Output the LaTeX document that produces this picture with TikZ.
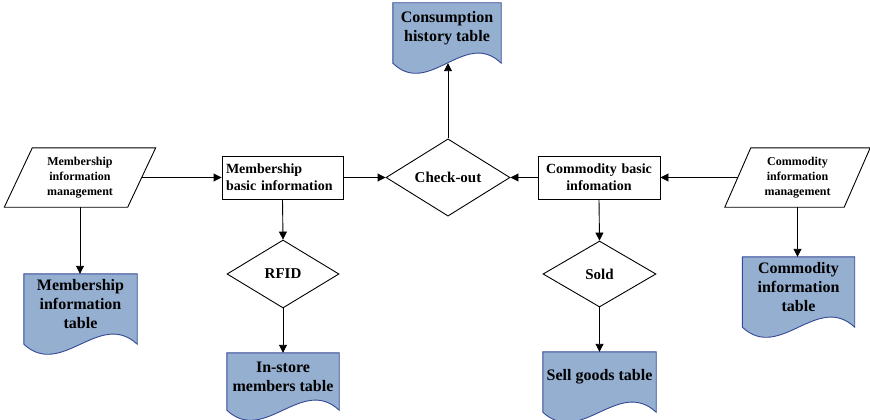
\documentclass[tikz,border=0pt]{standalone}
\usepackage{fontspec}
\setmainfont{Liberation Serif}
\usetikzlibrary{shapes.geometric,arrows.meta,calc,backgrounds}
\definecolor{tablefill}{RGB}{149,175,208}
\definecolor{tableedge}{RGB}{52,72,150}

\tikzset{
  iobox/.style={rectangle, minimum height=59pt, inner sep=0pt, align=center,
    font=\bfseries\fontsize{12}{15}\selectfont},
  ioshape/.style={draw, line width=0.9pt, fill=white},
  procbox/.style={draw, line width=0.9pt, rectangle, minimum height=43pt,
    inner xsep=4pt, inner ysep=0pt, font=\bfseries\fontsize{14}{17}\selectfont},
  decision/.style={draw, line width=0.9pt, diamond, inner sep=0pt,
    font=\bfseries\fontsize{15}{18}\selectfont},
  datatable/.style={rectangle, inner sep=0pt, align=center,
    font=\bfseries\fontsize{16}{19}\selectfont},
  tableshape/.style={fill=tablefill, draw=tableedge, line width=0.9pt},
  flow/.style={-{Triangle[length=8pt,width=8pt]}, line width=0.9pt},
}

% parallelogram around an input/output node; #2 is half the horizontal slant
\newcommand\slantframe[2]{%
  \path[ioshape] ($(#1.north west)+(#2,0)$) -- ($(#1.north east)+(#2,0)$)
    -- ($(#1.south east)+(-#2,0)$) -- ($(#1.south west)+(-#2,0)$) -- cycle;}

% document outline with a wavy lower edge around a table node
\newcommand\wavetable[1]{%
  \path[tableshape] ($(#1.south west)+(0,10)$) -- (#1.north west) -- (#1.north east)
    -- ($(#1.south east)+(0,10)$)
    .. controls ($(#1.south west)!0.667!(#1.south east)+(0,-25)$)
    and ($(#1.south west)!0.333!(#1.south east)+(0,45)$)
    .. ($(#1.south west)+(0,10)$) -- cycle;}

\begin{document}
\begin{tikzpicture}[x=1pt, y=-1pt]
  \useasboundingbox (0,0) rectangle (870,420);

  % main row
  \node[iobox, minimum width=123pt] (mpar) at (80,177.5) {Membership\\information\\management};
  \node[procbox, text width=113pt, align=left] (mbox) at (282.5,177.5)
    {Membership\\basic information};
  \node[decision, minimum width=124pt, minimum height=67pt] (check) at (448,177.5) {Check-out};
  \node[procbox, text width=114pt, align=center] (cbox) at (599,177.5)
    {Commodity basic\\infomation};
  \node[iobox, minimum width=119pt] (cpar) at (797.5,177.5) {Commodity\\information\\management};

  % decisions
  \node[decision, minimum width=112pt, minimum height=68pt] (rfid) at (283,274) {RFID};
  \node[decision, minimum width=113pt, minimum height=66pt] (sold) at (599.5,274) {Sold};

  % tables
  \node[datatable, minimum width=113pt, minimum height=60pt] (memtab) at (80.5,304)
    {Membership\\information\\table};
  \node[datatable, minimum width=112pt, minimum height=47pt] (instore) at (283,376.5)
    {In-store\\members table};
  \node[datatable, minimum width=113pt, minimum height=50pt] (sell) at (599.5,377)
    {Sell goods table};
  \node[datatable, minimum width=112pt, minimum height=60pt] (comtab) at (798.5,287)
    {Commodity\\information\\table};
  \node[datatable, minimum width=108pt, minimum height=50pt] (cons) at (447,28)
    {Consumption\\history table};
  \coordinate (consend) at ($(cons.south)+(0,10)$);

  \begin{scope}[on background layer]
    \slantframe{mpar}{14}
    \slantframe{cpar}{13}
    \wavetable{memtab}
    \wavetable{instore}
    \wavetable{sell}
    \wavetable{comtab}
    \wavetable{cons}
  \end{scope}

  % connectors
  \draw[flow] (mpar) -- (mbox);
  \draw[flow] (mbox) -- (check);
  \draw[flow] (cbox) -- (check);
  \draw[flow] (cpar) -- (cbox);
  \draw[flow] (check.north) -- (check.north |- consend);
  \draw[flow] (mpar.south) -- (mpar.south |- memtab.north);
  \draw[flow] (mbox.south) -- (rfid.north);
  \draw[flow] (rfid.south) -- (instore.north);
  \draw[flow] (cbox.south) -- (sold.north);
  \draw[flow] (sold.south) -- (sell.north);
  \draw[flow] (cpar.south) -- (cpar.south |- comtab.north);
\end{tikzpicture}
\end{document}
